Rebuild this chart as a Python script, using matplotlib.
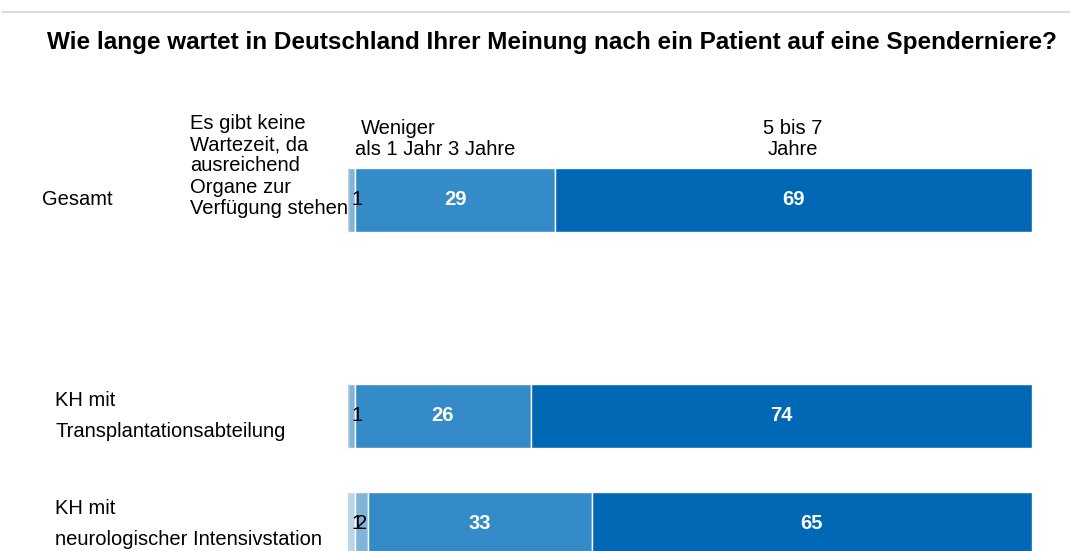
import matplotlib
matplotlib.use("Agg")
import matplotlib.pyplot as plt
from matplotlib.lines import Line2D
import numpy as np

plt.rcParams['font.family'] = ['Liberation Sans', 'DejaVu Sans']

title = "Wie lange wartet in Deutschland Ihrer Meinung nach ein Patient auf eine Spenderniere?"
rows = ["Gesamt", "", "KH mit\nTransplantationsabteilung", "KH mit\nneurologischer Intensivstation"]
categories = ["Es gibt keine\nWartezeit, da\nausreichend\nOrgane zur\nVerfügung stehen",
              "Weniger\nals 1 Jahr", "3 Jahre", "5 bis 7\nJahre"]
keine_wartezeit = [0, None, 0, 1]
weniger_1_jahr = [1, None, 1, 2]
drei_jahre = [29, None, 26, 33]
fuenf_bis_sieben = [69, None, 74, 65]
colors = ["#b9d5ea", "#80b4d9", "#358bc8", "#0068b4"]

series = [keine_wartezeit, weniger_1_jahr, drei_jahre, fuenf_bis_sieben]

W, H = 1070, 551
fig = plt.figure(figsize=(W / 100, H / 100), dpi=100)
ax = fig.add_axes([348 / W, 0, (1032 - 348) / W, (551 - 95) / H])
ax.set_xlim(0, 100)
ax.set_ylim(3.25, -0.972)
ax.axis('off')

bar_h = 0.595
for i, name in enumerate(rows):
    vals = [s[i] for s in series]
    if vals[0] is None:
        continue
    total = sum(vals)
    left = 0.0
    for j, v in enumerate(vals):
        w = v * 100.0 / total
        if v > 0:
            ax.barh(i, w, left=left, height=bar_h, color=colors[j],
                    edgecolor='white', linewidth=1.0)
            c = left + w / 2
            if v >= 5:
                ax.text(c, i, str(v), ha='center', va='center', color='white',
                        fontsize=14.5, fontweight='bold')
            else:
                ax.text(max(c, 1.3), i, str(v), ha='center', va='center', color='black',
                        fontsize=14.5)
        left += w
    ax.vlines(0, i - bar_h / 2, i + bar_h / 2, color='#c8cfd4', linewidth=1.0)

# row labels
for i, name in enumerate(rows):
    if name:
        xoff = 42 if "\n" not in name else 55
        ax.text((xoff - 348) / 6.84, i, name, ha='left', va='center', fontsize=14.5,
                linespacing=1.75, clip_on=False)

# category labels above first bar
cat_pos = [(-23.1, -0.315, 'left'), (7.4, -0.565, 'center'), (19.5, -0.463, 'center'), (65.0, -0.565, 'center')]
for lab, (x, y, ha) in zip(categories, cat_pos):
    ax.text(x, y, lab, ha=ha, va='center', fontsize=14.5, linespacing=1.16, clip_on=False)

fig.text(552 / W, 1 - 43 / H, title, ha='center', va='center', fontsize=17.5, fontweight='bold')
fig.add_artist(Line2D([3 / W, 1.0], [1 - 12 / H, 1 - 12 / H], color='#d5dcdc', linewidth=1.5))

fig.savefig("out.png", dpi=100)
